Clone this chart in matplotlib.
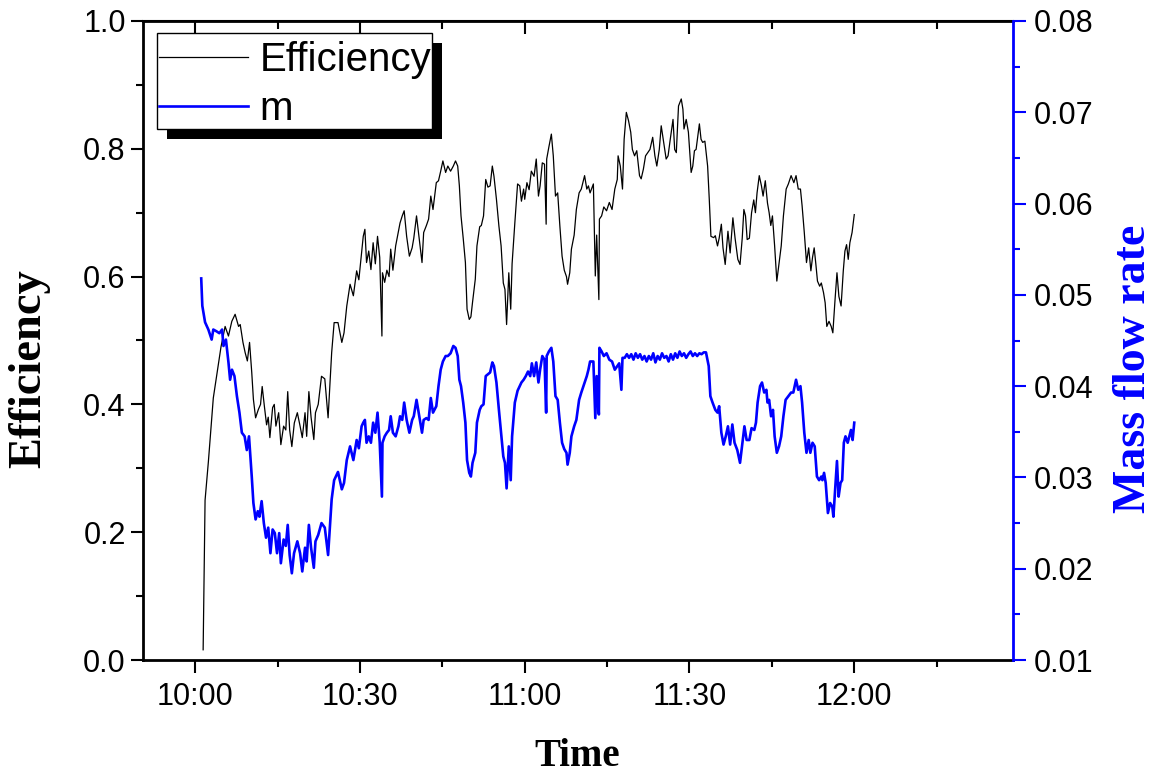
import matplotlib
matplotlib.use("Agg")
import matplotlib.pyplot as plt
from matplotlib.ticker import FixedLocator, FuncFormatter, MultipleLocator
from matplotlib.patches import Rectangle

plt.rcParams['font.family'] = ['Liberation Sans', 'DejaVu Sans']

# minutes after 10:00
eff_t = [1.45, 1.8, 2.4, 3.3, 3.9, 4.7, 5.45, 6.06, 6.67, 7.27, 7.9, 8.2, 8.7, 9.1, 9.5, 9.9,
         10.3, 10.6, 11.0, 11.5, 11.9, 12.2, 12.6, 13.0, 13.3, 13.6, 14.1, 14.4, 14.7, 15.2,
         15.6, 16.1, 16.5, 16.85, 17.2, 17.6, 18.05, 18.6, 19.1, 19.5, 20.0, 20.3, 20.7, 21.1,
         21.6, 21.9, 22.4, 23.0, 23.6, 24.2, 24.85, 25.3, 26.0, 26.7, 27.1, 27.6, 28.2, 28.8,
         29.4, 29.8, 30.3, 30.6, 30.9, 31.2, 31.6, 32.0, 32.4, 32.8, 33.2, 33.6, 34.0, 34.1,
         34.5, 34.9, 35.3, 35.6, 36.0, 36.5, 37.0, 37.3, 37.7, 38.05, 38.5, 39.0, 39.5, 39.8,
         40.3, 40.8, 41.3, 41.6, 42.1, 42.5, 42.9, 43.3, 43.9, 44.3, 44.7, 45.1, 45.6, 46.0,
         46.5, 47.0, 47.4, 47.8, 48.1, 48.4, 48.8, 49.2, 49.5, 49.9, 50.2, 50.5, 51.0, 51.3,
         51.8, 52.1, 52.5, 52.9, 53.3, 53.7, 54.1, 54.4, 54.85, 55.3, 55.7, 56.1, 56.4, 56.7,
         57.1, 57.45, 57.7, 58.2, 58.7, 59.1, 59.4, 59.8, 60.0, 60.4, 60.8, 61.2, 61.7, 62.1,
         62.5, 62.8, 63.2, 63.6, 63.9, 64.0, 64.4, 64.85, 65.2, 65.6, 66.0, 66.4, 66.8, 67.2,
         67.6, 67.8, 68.2, 68.5, 69.0, 69.4, 69.9, 70.3, 70.9, 71.3, 71.6, 71.9, 72.5, 72.85,
         73.1, 73.5, 73.6, 74.0, 74.4, 74.9, 75.4, 75.9, 76.4, 76.85, 77.0, 77.4, 77.8, 78.1,
         78.5, 78.9, 79.3, 79.6, 80.0, 80.4, 80.9, 81.2, 81.6, 82.0, 82.4, 82.8, 83.3, 83.7,
         84.05, 84.5, 84.85, 85.3, 85.75, 86.1, 86.5, 87.0, 87.3, 87.6, 88.0, 88.5, 88.8, 89.0,
         89.4, 89.8, 90.3, 90.6, 90.9, 91.2, 91.8, 92.1, 92.4, 92.8, 93.3, 93.6, 93.9, 94.4,
         94.7, 95.1, 95.4, 95.8, 96.1, 96.5, 97.0, 97.4, 97.9, 98.3, 98.8, 99.2, 99.6, 99.9,
         100.2, 100.5, 100.9, 101.3, 101.7, 102.0, 102.3, 102.7, 103.1, 103.4, 103.8, 104.2,
         104.5, 104.8, 105.1, 105.5, 105.9, 106.3, 106.7, 107.1, 107.6, 108.0, 108.5, 109.0,
         109.4, 109.8, 110.2, 110.5, 110.9, 111.3, 111.7, 112.1, 112.4, 112.7, 113.0, 113.3,
         113.7, 114.0, 114.4, 114.7, 115.0, 115.4, 115.8, 116.1, 116.5, 116.85, 117.2, 117.6,
         118.0, 118.3, 118.6, 118.9, 119.2, 119.6, 120.0]
eff_v = [0.016, 0.25, 0.31, 0.41, 0.444, 0.49, 0.522, 0.507, 0.53, 0.541, 0.522, 0.525, 0.497, 0.481, 0.468, 0.497,
         0.45, 0.408, 0.379, 0.392, 0.40, 0.428, 0.397, 0.368, 0.38, 0.348, 0.395, 0.40, 0.366, 0.387,
         0.337, 0.366, 0.36, 0.42, 0.36, 0.334, 0.371, 0.387, 0.366, 0.348, 0.387, 0.35, 0.42, 0.38,
         0.345, 0.387, 0.40, 0.444, 0.44, 0.379, 0.481, 0.528, 0.528, 0.497, 0.512, 0.554, 0.588, 0.57,
         0.609, 0.595, 0.637, 0.663, 0.674, 0.622, 0.64, 0.611, 0.653, 0.62, 0.663, 0.63, 0.507, 0.606,
         0.591, 0.61, 0.60, 0.643, 0.61, 0.648, 0.67, 0.684, 0.695, 0.703, 0.663, 0.632, 0.645, 0.66,
         0.695, 0.658, 0.622, 0.669, 0.68, 0.69, 0.726, 0.705, 0.747, 0.75, 0.765, 0.781, 0.763, 0.773,
         0.765, 0.773, 0.781, 0.773, 0.742, 0.695, 0.66, 0.622, 0.549, 0.533, 0.537, 0.56, 0.596, 0.648,
         0.678, 0.68, 0.695, 0.752, 0.74, 0.742, 0.773, 0.757, 0.721, 0.679, 0.648, 0.59, 0.58, 0.525,
         0.606, 0.549, 0.62, 0.684, 0.745, 0.742, 0.718, 0.737, 0.721, 0.747, 0.736, 0.765, 0.757, 0.784,
         0.726, 0.742, 0.778, 0.776, 0.682, 0.784, 0.803, 0.823, 0.789, 0.726, 0.731, 0.679, 0.632, 0.61,
         0.60, 0.588, 0.606, 0.643, 0.665, 0.705, 0.731, 0.737, 0.758, 0.737, 0.742, 0.731, 0.745, 0.601,
         0.665, 0.564, 0.69, 0.695, 0.709, 0.703, 0.716, 0.705, 0.737, 0.752, 0.789, 0.773, 0.737, 0.815,
         0.857, 0.844, 0.826, 0.799, 0.789, 0.797, 0.758, 0.753, 0.768, 0.789, 0.794, 0.799, 0.818, 0.789,
         0.773, 0.799, 0.836, 0.810, 0.784, 0.789, 0.815, 0.846, 0.799, 0.794, 0.867, 0.878, 0.862, 0.831,
         0.846, 0.826, 0.763, 0.773, 0.797, 0.799, 0.839, 0.815, 0.81, 0.812, 0.773, 0.721, 0.663, 0.661,
         0.664, 0.648, 0.66, 0.682, 0.645, 0.619, 0.671, 0.637, 0.692, 0.66, 0.627, 0.619, 0.66, 0.705,
         0.695, 0.658, 0.66, 0.70, 0.72, 0.70, 0.731, 0.758, 0.742, 0.726, 0.750, 0.715,
         0.70, 0.68, 0.695, 0.648, 0.593, 0.62, 0.648, 0.695, 0.737, 0.745, 0.758, 0.747,
         0.758, 0.737, 0.737, 0.711, 0.669, 0.622, 0.645, 0.609, 0.63, 0.645, 0.62, 0.593,
         0.585, 0.59, 0.575, 0.559, 0.522, 0.53, 0.522, 0.512, 0.564, 0.606, 0.569, 0.554,
         0.609, 0.64, 0.65, 0.627, 0.653, 0.669, 0.697]

m_t = [1.1, 1.3, 1.8, 2.4, 3.0, 3.3, 3.9, 4.4, 4.9, 5.15, 5.6, 6.06, 6.36, 6.7, 7.15, 7.6, 8.06, 8.5,
       9.0, 9.4, 9.8, 10.3, 10.6, 11.0, 11.4, 11.7, 12.1, 12.5, 12.9, 13.3, 13.7, 14.1, 14.5, 14.9,
       15.3, 15.6, 16.1, 16.5, 16.85, 17.2, 17.6, 18.0, 18.6, 19.1, 19.5, 20.0, 20.3, 20.7, 21.1,
       21.6, 21.9, 22.4, 23.0, 23.6, 24.2, 24.85, 25.3, 26.0, 26.7, 27.1, 27.6, 28.2, 28.8, 29.4,
       29.8, 30.3, 30.6, 30.9, 31.2, 31.6, 32.0, 32.4, 32.8, 33.2, 33.6, 34.0, 34.1, 34.5, 34.9,
       35.3, 35.6, 36.0, 36.5, 37.0, 37.3, 37.7, 38.05, 38.5, 39.0, 39.5, 39.8, 40.3, 40.8, 41.3,
       41.6, 42.1, 42.5, 42.9, 43.3, 43.9, 44.3, 44.7, 45.1, 45.6, 46.0, 46.5, 47.0, 47.4, 47.8,
       48.1, 48.4, 48.8, 49.2, 49.5, 49.9, 50.2, 50.5, 51.0, 51.3, 51.8, 52.1, 52.5, 52.9, 53.3,
       53.7, 54.1, 54.4, 54.85, 55.3, 55.7, 56.1, 56.4, 56.7, 57.1, 57.45, 57.7, 58.2, 58.7, 59.1,
       59.4, 59.8, 60.2, 60.6, 61.0, 61.3, 61.7, 62.1, 62.5, 62.8, 63.2, 63.6, 63.9, 64.0, 64.4,
       64.85, 65.2, 65.6, 66.0, 66.4, 66.8, 67.2, 67.6, 67.8, 68.2, 68.5, 69.0, 69.4, 69.9, 70.3,
       70.9, 71.3, 71.6, 71.9, 72.5, 72.85, 73.1, 73.5, 73.6, 74.0, 74.4, 74.9, 75.4, 75.9, 76.4,
       76.85, 77.2, 77.6, 77.8, 78.2, 78.6, 79.0, 79.4, 79.8, 80.2, 80.6, 81.0, 81.4, 81.8, 82.2,
       82.6, 83.0, 83.4, 83.8, 84.2, 84.6, 85.0, 85.4, 85.8, 86.2, 86.6, 87.0, 87.4, 87.8, 88.2,
       88.6, 89.0, 89.4, 89.8, 90.2, 90.6, 91.0, 91.4, 91.8, 92.2, 92.6, 93.0, 93.5, 93.8, 94.2,
       94.7, 95.1, 95.4, 95.8, 96.2, 96.6, 97.0, 97.4, 97.8, 98.2, 98.7, 99.2, 99.6, 100.0, 100.4,
       100.9, 101.3, 101.8, 102.1, 102.4, 102.85, 103.2, 103.6, 104.0, 104.2, 104.5, 104.85, 105.2,
       105.5, 105.9, 106.3, 106.7, 107.1, 107.5, 108.0, 108.5, 108.9, 109.4, 109.8, 110.2, 110.5,
       110.9, 111.3, 111.7, 112.0, 112.4, 112.8, 113.2, 113.6, 114.0, 114.2, 114.5, 114.8, 115.2,
       115.6, 116.0, 116.2, 116.5, 116.85, 117.15, 117.5, 117.8, 118.1, 118.4, 118.8, 119.1, 119.4,
       119.7, 120.0]
m_v = [0.0518, 0.0488, 0.0470, 0.0462, 0.0451, 0.0462, 0.0460, 0.0458, 0.0462, 0.0444, 0.0451, 0.0426, 0.0407, 0.0418, 0.0411, 0.0389, 0.0371, 0.0349,
       0.0345, 0.0330, 0.0345, 0.0301, 0.0272, 0.0254, 0.0263, 0.0257, 0.0274, 0.0250, 0.0234, 0.0245, 0.0217, 0.0243, 0.0239, 0.0217,
       0.0239, 0.0206, 0.0232, 0.0225, 0.0248, 0.0215, 0.0195, 0.0217, 0.0230, 0.0217, 0.0197, 0.0223, 0.0208, 0.0248, 0.0223,
       0.0201, 0.0230, 0.0237, 0.0250, 0.0245, 0.0215, 0.0276, 0.0297, 0.0306, 0.0287, 0.0294, 0.0319, 0.0334, 0.0319, 0.0341,
       0.0332, 0.0356, 0.0360, 0.0363, 0.0338, 0.0345, 0.0338, 0.0360, 0.0349, 0.0371, 0.0338, 0.0279, 0.0338, 0.0345, 0.0349,
       0.0352, 0.0367, 0.0349, 0.0345, 0.0356, 0.0367, 0.0363, 0.0382, 0.0363, 0.0349, 0.0363, 0.0367, 0.0385, 0.0367, 0.0349,
       0.0363, 0.0365, 0.0363, 0.0387, 0.0371, 0.0378, 0.0400, 0.0418, 0.0427, 0.0433, 0.0433, 0.0436, 0.0444, 0.0442, 0.0433,
       0.0407, 0.0400, 0.0382, 0.0360, 0.0319, 0.0305, 0.0301, 0.0316, 0.0327, 0.0360, 0.0374, 0.0378, 0.0380, 0.0411, 0.0413,
       0.0415, 0.0426, 0.0422, 0.0404, 0.0374, 0.0349, 0.0323, 0.0316, 0.0288, 0.0334, 0.0297, 0.0345, 0.0382, 0.0395, 0.0400,
       0.0404, 0.0407, 0.0411, 0.0416, 0.0411, 0.0425, 0.0411, 0.0426, 0.0404, 0.0418, 0.0433, 0.0429, 0.0371, 0.0433, 0.0438,
       0.0442, 0.0427, 0.0389, 0.0385, 0.0360, 0.0338, 0.0331, 0.0327, 0.0314, 0.0327, 0.0345, 0.0356, 0.0363, 0.0385, 0.0393,
       0.0404, 0.0411, 0.0418, 0.0427, 0.0427, 0.0365, 0.0411, 0.0369, 0.0442, 0.0438, 0.0433, 0.0436, 0.0429, 0.0427, 0.0418,
       0.0422, 0.0425, 0.0396, 0.0431, 0.0431, 0.0435, 0.0431, 0.0435, 0.0429, 0.0436, 0.0431, 0.0435, 0.0429, 0.0433, 0.0427,
       0.0433, 0.0429, 0.0436, 0.0426, 0.0433, 0.0429, 0.0436, 0.0431, 0.0433, 0.0427, 0.0435, 0.0429, 0.0436, 0.0431, 0.0438,
       0.0433, 0.0436, 0.0431, 0.0435, 0.0438, 0.0433, 0.0436, 0.0433, 0.0436, 0.0435, 0.0437, 0.0437, 0.0422, 0.0389, 0.0382,
       0.0374, 0.0371, 0.0378, 0.0349, 0.0336, 0.0345, 0.0356, 0.0336, 0.0358, 0.0338, 0.0330, 0.0316, 0.0336, 0.0356, 0.0341,
       0.0341, 0.0354, 0.0352, 0.0360, 0.0382, 0.0400, 0.0404, 0.0393, 0.0396, 0.0382, 0.0385, 0.0367, 0.0374,
       0.0345, 0.0327, 0.0334, 0.0345, 0.0367, 0.0385, 0.0389, 0.0393, 0.0393, 0.0407, 0.0396, 0.0400, 0.0382,
       0.0349, 0.0327, 0.0341, 0.0327, 0.0338, 0.0334, 0.0301, 0.0297, 0.0301, 0.0297, 0.0305, 0.0294, 0.0261,
       0.0272, 0.0268, 0.0257, 0.0286, 0.0318, 0.0279, 0.0294, 0.0297, 0.0338, 0.0345, 0.0338, 0.0345, 0.0352,
       0.0341, 0.0360]

x_major = [0, 30, 60, 90, 120]
x_minor = [15, 45, 75, 105, 135]

BLUE = '#0000ff'

fig = plt.figure(figsize=(11.68, 7.76), dpi=100)
ax = fig.add_axes([143 / 1168, 1 - 660 / 776, 870 / 1168, 639 / 776])
ax2 = ax.twinx()

l1, = ax.plot(eff_t, eff_v, color='black', lw=0.9, label='Efficiency')
l2, = ax2.plot(m_t, m_v, color=BLUE, lw=1.9, label='m')

ax.set_xlim(-9.5, 148.9)
ax.set_ylim(0, 1.0)
ax2.set_ylim(0.01, 0.08)

def hhmm(v, pos):
    v = int(round(v))
    return f"{10 + v // 60}:{v % 60:02d}"

ax.xaxis.set_major_locator(FixedLocator(x_major))
ax.xaxis.set_minor_locator(FixedLocator(x_minor))
ax.xaxis.set_major_formatter(FuncFormatter(hhmm))
ax.yaxis.set_major_locator(MultipleLocator(0.2))
ax.yaxis.set_minor_locator(MultipleLocator(0.1))
ax.yaxis.set_major_formatter(FuncFormatter(lambda v, p: f"{v:.1f}"))
ax2.yaxis.set_major_locator(MultipleLocator(0.01))
ax2.yaxis.set_minor_locator(MultipleLocator(0.005))
ax2.yaxis.set_major_formatter(FuncFormatter(lambda v, p: f"{v:.2f}"))

ax.tick_params(axis='both', which='major', direction='out', length=9, width=1.5, labelsize=22)
ax.tick_params(axis='both', which='minor', direction='out', length=5, width=1.5)
ax.tick_params(axis='x', pad=7)
ax2.tick_params(axis='y', which='major', direction='out', length=9, width=1.5, pad=6,
                colors=BLUE, labelcolor='black', labelsize=22)
ax2.tick_params(axis='y', which='minor', direction='out', length=5, width=1.5, colors=BLUE)

top = ax.secondary_xaxis('top')
top.xaxis.set_major_locator(FixedLocator(x_major))
top.xaxis.set_minor_locator(FixedLocator(x_minor))
top.tick_params(which='major', direction='in', length=9, width=1.5, labeltop=False)
top.tick_params(which='minor', direction='in', length=6, width=1.5)
top.spines['top'].set_linewidth(1.5)

for s in ['left', 'bottom', 'top']:
    ax.spines[s].set_linewidth(2)
ax.spines['right'].set_visible(False)
for s in ['left', 'bottom', 'top']:
    ax2.spines[s].set_visible(False)
ax2.spines['right'].set_color(BLUE)
ax2.spines['right'].set_linewidth(2)

fig.text(29 / 1168, 1 - 369 / 776, 'Efficiency', rotation=90, ha='center', va='center',
         family='Liberation Serif', weight='bold', fontsize=33.5)
fig.text(1134 / 1168, 1 - 369 / 776, 'Mass flow rate', rotation=90, ha='center', va='center',
         family='Liberation Serif', weight='bold', fontsize=33, color=BLUE)
fig.text(577 / 1168, 1 - 766 / 776, 'Time', ha='center', va='baseline',
         family='Liberation Serif', weight='bold', fontsize=28)

# legend without its own frame; the box and the solid shadow are drawn around it
leg = ax2.legend(handles=[l1, l2], loc='upper left', bbox_to_anchor=((151 - 143) / 870, (660 - 33) / 639),
                 borderaxespad=0, fontsize=29, frameon=False,
                 handlelength=2.2, handletextpad=0.3, labelspacing=0.28, borderpad=0.2)

fig.canvas.draw()
bb = leg.get_window_extent()
inv = fig.transFigure.inverted()
(bx0, by0), (bx1, by1) = inv.transform([(bb.x0 + 6, bb.y0 + 7), (bb.x1 - 7, bb.y1)])
bw, bh = bx1 - bx0, by1 - by0
zl = leg.get_zorder()
ax2.add_artist(Rectangle((bx0 + 10 / 1168, by0 - 10 / 776), bw, bh, transform=fig.transFigure,
                         facecolor='black', edgecolor='none', zorder=zl - 0.2, clip_on=False))
ax2.add_artist(Rectangle((bx0, by0), bw, bh, transform=fig.transFigure,
                         facecolor='white', edgecolor='black', lw=1, zorder=zl - 0.1, clip_on=False))

fig.savefig('out.png', dpi=100)
